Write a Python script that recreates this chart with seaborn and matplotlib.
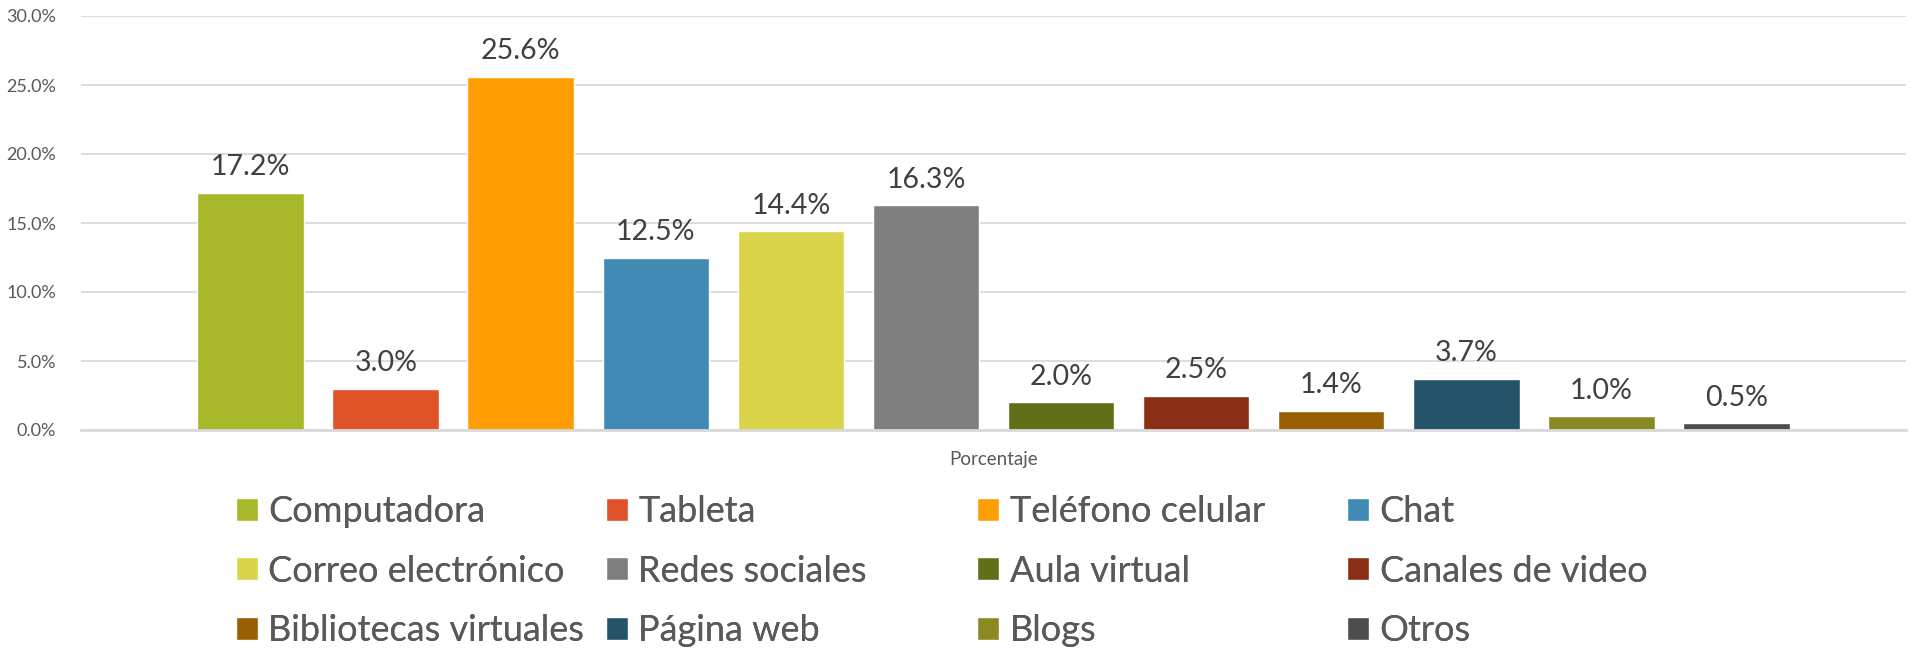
import matplotlib
matplotlib.use("Agg")
import matplotlib.pyplot as plt
import seaborn as sns
import pandas as pd
from matplotlib.ticker import FuncFormatter

categoria = ["Porcentaje"]
series = ["Computadora", "Tableta", "Teléfono celular", "Chat",
          "Correo electrónico", "Redes sociales", "Aula virtual", "Canales de video",
          "Bibliotecas virtuales", "Página web", "Blogs", "Otros"]
valores = [17.2, 3.0, 25.6, 12.5, 14.4, 16.3, 2.0, 2.5, 1.4, 3.7, 1.0, 0.5]
colores = ["#A7B82A", "#E05227", "#FF9E02", "#418AB3", "#D9D44A", "#7F7F80",
           "#636E19", "#8A2F15", "#9A5F00", "#255369", "#8B8A22", "#4D4D4F"]
yticks = [0, 5, 10, 15, 20, 25, 30]

sns.set_theme(style="white")
plt.rcParams["font.family"] = ["Lato", "DejaVu Sans"]

df = pd.DataFrame({"cat": categoria * len(series), "serie": series, "valor": valores})

fig = plt.figure(figsize=(19.13, 6.54), dpi=100)
ax = fig.add_axes([81 / 1913, 1 - 430 / 654, (1906 - 81) / 1913, (430 - 16) / 654])

sns.barplot(data=df, x="cat", y="valor", hue="serie", hue_order=series,
            palette=colores, width=0.888, gap=0.21, dodge=True, legend=False,
            saturation=1, ax=ax, errorbar=None)

ax.set_ylim(0, 30)
ax.set_xlim(-0.5, 0.5)
ax.set_yticks(yticks)
ax.yaxis.set_major_formatter(FuncFormatter(lambda v, p: f"{v:.1f}%"))
ax.grid(axis="y", color="#D9D9D9", linewidth=1.3)
ax.set_axisbelow(True)
for s in ["top", "right", "left"]:
    ax.spines[s].set_visible(False)
ax.spines["bottom"].set_color("#D9D9D9")
ax.spines["bottom"].set_linewidth(2)
ax.tick_params(axis="y", length=0, pad=18, labelsize=13, labelcolor="#595959")
ax.tick_params(axis="x", length=0, pad=15, labelsize=13.5, labelcolor="#595959")
ax.set_xlabel("")
ax.set_ylabel("")

for cont in ax.containers:
    ax.bar_label(cont, fmt="%.1f%%", padding=9, fontsize=20.5, color="#404040")

handles = [c.patches[0] for c in ax.containers]
col_x = [236, 606, 977, 1347]
fs = 26
for j in range(4):
    idx = [j, j + 4, j + 8]
    leg = fig.legend([handles[i] for i in idx], [series[i] for i in idx],
                     loc="center left", bbox_to_anchor=(col_x[j] / 1913, 1 - 571 / 654),
                     frameon=False, fontsize=fs, handlelength=0.6, handleheight=0.6,
                     handletextpad=0.3, borderpad=0, borderaxespad=0, labelspacing=0.73,
                     labelcolor="#595959")
    fig.add_artist(leg)

fig.savefig("out.png", dpi=100)
